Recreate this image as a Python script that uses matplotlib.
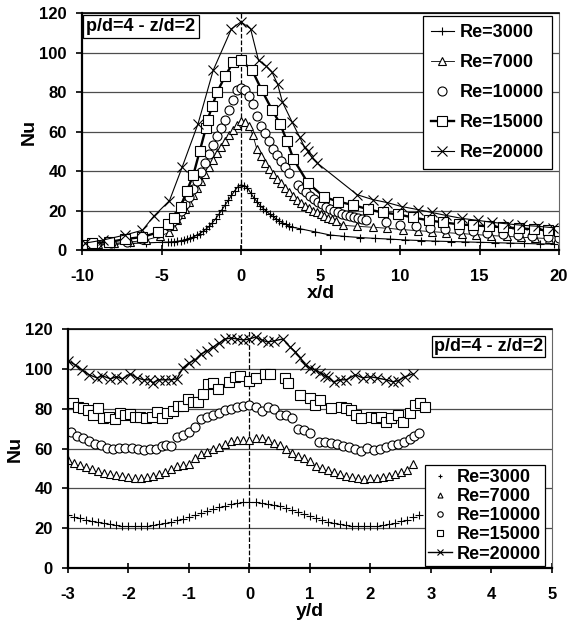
import numpy as np
import matplotlib
matplotlib.use("Agg")
import matplotlib.pyplot as plt

plt.rcParams.update({
    "font.family": ["Liberation Sans", "DejaVu Sans"],
    "font.weight": "bold",
    "font.size": 12,
    "axes.unicode_minus": False,
})

# ---------------- top panel: Nu vs x/d ----------------
x_re3000 = [-10, -9, -8, -7, -6, -5,
            -4.6, -4.4, -4.2, -4.0, -3.8, -3.6, -3.4, -3.2, -3.0, -2.8, -2.6, -2.4, -2.2, -2.0,
            -1.8, -1.6, -1.4, -1.2, -1.0, -0.8, -0.6, -0.4, -0.2, 0.0, 0.2, 0.4, 0.6, 0.8,
            1.0, 1.2, 1.4, 1.6, 1.8, 2.0, 2.2, 2.4, 2.6, 2.8, 3.0, 3.2,
            3.7, 4.65, 5.6, 6.5, 7.5, 8.4, 9.4, 10.3, 11.3, 12.2, 13.2, 14.1, 15.0, 16.0,
            16.9, 17.8, 18.8, 19.7]
nu_re3000 = [2.0, 2.5, 3.0, 3.3, 3.6, 3.9,
             4.0, 4.1, 4.2, 4.4, 4.7, 5.0, 5.4, 6.0, 6.6, 7.4, 8.3, 9.4, 10.6, 12.0,
             13.8, 15.8, 18.0, 20.4, 22.8, 25.2, 27.6, 30.0, 32.0, 33.0, 32.5, 31.5, 29.0, 26.5,
             24.5, 22.5, 21.0, 19.6, 18.2, 17.0, 15.8, 14.8, 13.9, 13.0, 12.2, 11.6,
             10.8, 9.2, 7.6, 6.9, 6.3, 5.9, 5.5, 5.1, 4.8, 4.5, 4.3, 4.1, 3.9, 3.7,
             3.5, 3.3, 3.1, 3.0]

x_re7000 = [-10, -9, -8, -7, -6, -5.1,
            -4.5, -4.25, -4.0, -3.75, -3.5, -3.25, -3.0, -2.75, -2.5, -2.25, -2.0, -1.75,
            -1.5, -1.25, -1.0, -0.75, -0.5, -0.25, 0.0, 0.25, 0.5, 0.75, 1.0, 1.25, 1.5,
            1.75, 2.0, 2.25, 2.5, 2.75, 3.0, 3.25, 3.5, 3.75, 4.0, 4.25, 4.5, 4.75, 5.0,
            5.25, 5.5, 5.75, 6.0,
            6.4, 7.3, 8.3, 9.2, 10.2, 11.1, 12.0, 12.9, 13.9, 14.8, 15.7, 16.7, 17.6, 18.5, 19.4]
nu_re7000 = [2.0, 2.8, 3.4, 4.0, 5.0, 7.0,
             9, 12, 15, 18, 21, 24.5, 28, 31.5, 35, 38.5, 42, 45.5,
             49, 52, 55, 58, 61, 63.5, 65.5, 65, 63, 58, 51, 47.5, 44,
             41, 38.5, 36, 34, 31.5, 29.5, 27.5, 25.5, 24, 22.5, 21.2, 20, 19, 18,
             17.2, 16.4, 15.6, 14.8,
             12.5, 12.0, 11.5, 11.0, 10.3, 9.8, 9.3, 8.8, 8.3, 7.8, 7.3, 6.9, 6.5, 6.1, 5.8]

x_re10000 = [-10, -9.1, -8.2, -7.2, -6.2, -5.2,
             -4.5, -4.25, -4.0, -3.75, -3.5, -3.25, -3.0, -2.75, -2.5, -2.25, -2.0, -1.75,
             -1.5, -1.25, -1.0, -0.75, -0.5, -0.25, 0.0, 0.25, 0.5, 0.75, 1.0, 1.25, 1.5,
             1.75, 2.0, 2.25, 2.5, 2.75, 3.0,
             3.6, 3.85, 4.1, 4.35, 4.6, 4.85, 5.1, 5.35, 5.6, 5.85, 6.1, 6.35, 6.6, 6.85,
             7.1, 7.35, 7.6, 7.85,
             9.1, 10.0, 11.0, 11.9, 12.8, 13.7, 14.6, 15.5, 16.5, 17.4, 18.3, 19.3, 20.0]
nu_re10000 = [2.5, 3.0, 3.5, 4.2, 5.5, 8.5,
              12, 14.5, 17, 20, 23.5, 27, 31, 35, 39.5, 44, 48.5, 53,
              57.5, 62, 66, 71, 76, 81, 82, 81, 78, 74, 68, 63, 59,
              55, 51, 48, 45, 42, 39,
              33, 31, 29.5, 27.5, 26, 24.5, 23.5, 22, 21, 20, 19, 18.3, 17.6, 17,
              16.5, 16, 15.6, 15.2,
              14.3, 12.6, 12.0, 11.3, 10.6, 10.0, 9.4, 8.8, 8.3, 7.7, 7.2, 6.7, 6.3]

x_re15000 = [-10, -9.4, -8.3, -7.3, -6.2, -5.2,
             -4.6, -4.2, -3.8, -3.4, -3.0, -2.6, -2.2, -2.1, -1.8, -1.5, -1.0, -0.5, 0.0,
             0.7, 1.3, 1.95, 2.45, 2.9, 3.3, 4.2, 5.2, 6.1, 7.05, 8.0, 8.9, 9.9, 10.8,
             11.8, 12.7, 13.7, 14.6, 15.6, 16.5, 17.5, 18.4, 19.3, 20.0]
nu_re15000 = [2.5, 3.5, 4.0, 5.5, 6.6, 9.0,
              13, 16, 22, 30, 38, 50, 62, 66, 73, 80, 88, 95, 96,
              91, 81, 71, 64, 55, 46, 34, 27, 24.5, 22.8, 20.6, 19, 18, 16.5,
              15, 14, 13, 12.5, 12, 11.5, 11, 10.5, 10, 9.5]

x_re20000 = [-9.8, -8.7, -7.3, -6.2, -5.5, -4.5, -3.7, -2.7, -1.75, -0.6, 0.0, 0.6,
             1.1, 1.6, 1.95, 2.3, 2.6, 3.2, 3.7, 4.0, 4.2, 4.45, 4.8,
             7.3, 8.3, 9.2, 10.1, 11.1, 12.0, 12.9, 13.9, 14.9, 15.8, 16.8, 17.7, 18.7, 19.6]
nu_re20000 = [3.5, 5, 7.6, 10, 17, 25, 42, 64, 91, 112, 115.5, 112,
              96, 93, 90, 84, 75, 65, 57, 52, 50, 47, 44,
              28, 25.5, 24, 22, 20.5, 19, 17.5, 16, 15, 14, 13.2, 12.5, 12, 11.3]

# ---------------- bottom panel: Nu vs y/d ----------------
y_re3000 = [-3.0, -2.9, -2.8, -2.7, -2.6, -2.5, -2.4, -2.3, -2.2, -2.1, -2.0, -1.9, -1.8,
            -1.7, -1.6, -1.5, -1.4, -1.3, -1.2, -1.1, -1.0, -0.9, -0.8, -0.7, -0.6, -0.5,
            -0.4, -0.3, -0.2, -0.1, 0.0, 0.1, 0.2, 0.3, 0.4, 0.5, 0.6, 0.7, 0.8, 0.9, 1.0,
            1.1, 1.2, 1.3, 1.4, 1.5, 1.6, 1.7, 1.8, 1.9, 2.0, 2.1, 2.2, 2.3, 2.4, 2.5, 2.6,
            2.7, 2.8]
nuy_re3000 = [26.5, 25.8, 25.0, 24.3, 23.6, 23.0, 22.5, 22.0, 21.6, 21.3, 21.1, 21.0, 21.0,
              21.2, 21.5, 22.0, 22.6, 23.3, 24.0, 24.8, 25.6, 26.5, 27.5, 28.5, 29.5, 30.5,
              31.3, 32.0, 32.6, 33.0, 33.2, 33.0, 32.7, 32.3, 31.8, 31.0, 30.0, 29.0, 28.0,
              27.0, 26.0, 25.0, 24.0, 23.2, 22.5, 22.0, 21.5, 21.2, 21.0, 21.0, 21.0, 21.2,
              21.5, 22.0, 22.6, 23.4, 24.3, 25.4, 26.5]

y_re7000 = [-3.0, -2.9, -2.8, -2.7, -2.6, -2.5, -2.4, -2.3, -2.2, -2.1, -2.0, -1.9, -1.8,
            -1.7, -1.6, -1.5, -1.4, -1.3, -1.2, -1.1, -1.0, -0.9, -0.8, -0.7, -0.6, -0.5,
            -0.4, -0.3, -0.2, -0.1, 0.0, 0.1, 0.2, 0.3, 0.4, 0.5, 0.6, 0.7, 0.8, 0.9, 1.0,
            1.1, 1.2, 1.3, 1.4, 1.5, 1.6, 1.7, 1.8, 1.9, 2.0, 2.1, 2.2, 2.3, 2.4, 2.5, 2.6,
            2.7]
nuy_re7000 = [54, 52.5, 51.5, 50.5, 49.5, 48.5, 47.5, 47, 46.5, 46, 45.5, 45, 45,
              45.5, 46, 47, 48, 49.5, 51, 51.5, 52, 55, 57, 58.5, 60, 61,
              62.5, 64, 64.5, 64.5, 64.5, 65.5, 65.5, 64.5, 63, 62, 60, 58, 56, 55, 53.5,
              51, 50, 49, 48, 47, 46, 45.5, 45, 44.5, 45, 45, 45.5, 46, 47, 48, 49,
              52]

y_re10000 = [-2.95, -2.85, -2.75, -2.65, -2.55, -2.45, -2.35, -2.25, -2.15, -2.05, -1.95,
             -1.85, -1.75, -1.65, -1.55, -1.45, -1.38, -1.3,
             -1.2, -1.1, -1.0, -0.9, -0.8, -0.7, -0.6, -0.5, -0.4, -0.3, -0.2, -0.1, 0.0,
             0.1, 0.2, 0.3, 0.4, 0.5, 0.6, 0.7, 0.8, 0.9, 1.0,
             1.15, 1.25, 1.35, 1.45, 1.55, 1.65, 1.75, 1.85, 1.95, 2.05, 2.15, 2.25, 2.35,
             2.45, 2.55, 2.65, 2.72, 2.8]
nuy_re10000 = [68.5, 66.5, 65.5, 64, 62.5, 62, 60.5, 60, 60.5, 60.5, 60.5,
               60, 59.5, 60, 60, 61.5, 62, 61.5,
               66, 67, 68.5, 71, 75, 76, 77, 78, 79.5, 80, 81, 81.5, 82,
               81, 79, 81, 80, 77, 77, 75.5, 70, 69.5, 68,
               63.5, 63.5, 63, 62.5, 61.5, 61, 60, 59, 60.5, 59.5, 60, 61, 62,
               62.5, 63.5, 65, 66.5, 68]

y_re15000 = [-2.92, -2.83, -2.75, -2.67, -2.58, -2.5, -2.42, -2.33, -2.22, -2.14, -2.06,
             -1.97, -1.89, -1.81, -1.71, -1.61, -1.53, -1.45, -1.36, -1.26, -1.18, -1.1,
             -1.02, -0.94, -0.85, -0.77, -0.69, -0.6, -0.52, -0.34, -0.24, -0.16, -0.01,
             0.1, 0.26, 0.34, 0.58, 0.64, 0.83, 1.0, 1.08, 1.16, 1.35, 1.51, 1.6, 1.68,
             1.76, 1.85, 2.01, 2.09, 2.18, 2.26, 2.34, 2.45, 2.54, 2.65, 2.74, 2.82, 2.9]
nuy_re15000 = [83, 81, 80.5, 79.5, 77, 80.5, 75.5, 76, 75, 78, 77,
               77.5, 76, 76, 75.5, 76, 78.5, 75.5, 78, 79, 81.5, 81.5,
               85, 83.5, 83.5, 87.5, 92.5, 93, 90, 93.5, 96, 96.5, 94,
               95.5, 97.5, 97.5, 95.5, 93, 87, 85.5, 82, 84.5, 80.5, 81, 80.5, 79.5,
               77, 75.5, 76, 75.5, 76, 73.5, 75.5, 77, 73.5, 78, 82, 83, 81]

y_re20000 = [-3.0, -2.88, -2.77, -2.65, -2.52, -2.43, -2.3, -2.2, -2.1, -1.97, -1.86,
             -1.75, -1.65, -1.6, -1.5, -1.4, -1.3, -1.2, -1.1, -1.0, -0.9, -0.8, -0.7,
             -0.6, -0.5, -0.4, -0.3, -0.2, -0.1, 0.0, 0.1, 0.2, 0.3, 0.4, 0.55, 0.67,
             0.76, 0.84, 0.92, 1.0, 1.08, 1.17, 1.25, 1.3, 1.39, 1.5, 1.6, 1.75, 1.87,
             2.0, 2.1, 2.26, 2.37, 2.45, 2.57, 2.7]
nuy_re20000 = [104, 102, 99.5, 97, 95.5, 96.5, 95, 96, 95, 97.5, 95.5,
               94.5, 94.5, 93, 94.5, 94.5, 94.5, 95, 100.5, 103, 104.5, 107.5, 109,
               111, 113, 115, 115.5, 115, 114.5, 115, 116, 114.5, 113.5, 114, 115, 111,
               108.5, 105.5, 102, 100.5, 99.5, 98, 96.5, 96, 93.5, 94.5, 94.5, 97, 95.5,
               96, 95.5, 94.5, 93.5, 94, 96, 97.5]

labels = ["Re=3000", "Re=7000", "Re=10000", "Re=15000", "Re=20000"]
box_text = "p/d=4 - z/d=2"

fig = plt.figure(figsize=(5.68, 6.28), dpi=100)
axT = fig.add_axes([0.1444, 0.6019, 0.8398, 0.3774])
axB = fig.add_axes([0.1197, 0.0955, 0.8521, 0.3806])

mk = dict(color="black", mfc="white", mec="black", mew=0.8)


def style_axes(ax):
    ax.yaxis.grid(True, color="0.3", lw=0.9)
    ax.set_axisbelow(True)
    for s in ("left", "bottom"):
        ax.spines[s].set_linewidth(1.6)
    ax.spines["top"].set_linewidth(1.2)
    ax.spines["right"].set_linewidth(0.8)
    ax.spines["right"].set_color("0.4")
    ax.tick_params(axis="x", direction="inout", length=7, width=1.2, labelsize=12, pad=10)
    ax.tick_params(axis="y", direction="out", length=4, width=1.2, labelsize=12, pad=7)
    ax.set_yticks(np.arange(0, 121, 20))
    ax.set_ylim(0, 120)
    for t in ax.get_xticklabels() + ax.get_yticklabels():
        t.set_fontweight("bold")
    ax.axvline(0, color="black", ls="--", lw=0.9, zorder=1)


# --- top ---
axT.plot(x_re3000, nu_re3000, marker="+", ms=6, lw=0.8, label=labels[0], **mk)
axT.plot(x_re7000, nu_re7000, marker="^", ms=6, lw=0.6, label=labels[1], **mk)
axT.plot(x_re10000, nu_re10000, marker="o", ms=6.5, ls="none", label=labels[2], **mk)
axT.plot(x_re15000, nu_re15000, marker="s", ms=6.5, lw=1.7, label=labels[3], **mk)
axT.plot(x_re20000, nu_re20000, marker="x", ms=6.5, lw=0.8, label=labels[4], **mk)
axT.set_xlim(-10, 20)
axT.set_xticks(np.arange(-10, 21, 5))
style_axes(axT)
axT.set_xlabel("x/d", fontsize=14, fontweight="bold", labelpad=1)
axT.set_ylabel("Nu", fontsize=14, fontweight="bold", labelpad=1)
leg = axT.legend(loc="upper right", bbox_to_anchor=(0.985, 0.987), borderaxespad=0,
                 fancybox=False, edgecolor="black", framealpha=1, labelspacing=0.72,
                 handlelength=1.3, handletextpad=0.3, borderpad=0.45,
                 prop=dict(weight="bold", size=13))
leg.get_frame().set_linewidth(0.9)
axT.text(0.009, 0.978, box_text, transform=axT.transAxes, ha="left", va="top",
         fontsize=13, fontweight="bold",
         bbox=dict(boxstyle="square,pad=0.18", fc="white", ec="black", lw=0.9))

# --- bottom ---
axB.plot(y_re3000, nuy_re3000, marker="+", ms=6, ls="none", label=labels[0], **mk)
axB.plot(y_re7000, nuy_re7000, marker="^", ms=6, ls="none", label=labels[1], **mk)
axB.plot(y_re10000, nuy_re10000, marker="o", ms=6.5, ls="none", label=labels[2], **mk)
axB.plot(y_re15000, nuy_re15000, marker="s", ms=6.5, ls="none", label=labels[3], **mk)
axB.plot(y_re20000, nuy_re20000, marker="x", ms=6.5, lw=1.0, label=labels[4], **mk)
axB.set_xlim(-3, 5)
axB.set_xticks(np.arange(-3, 6, 1))
style_axes(axB)
axB.set_xlabel("y/d", fontsize=14, fontweight="bold", labelpad=1)
axB.set_ylabel("Nu", fontsize=14, fontweight="bold", labelpad=1)
legB = axB.legend(loc="lower right", bbox_to_anchor=(0.9855, 0.008), borderaxespad=0,
                  fancybox=False, edgecolor="black", framealpha=1, labelspacing=0.12,
                  handlelength=1.3, handletextpad=0.3, borderpad=0.2, markerscale=0.6,
                  prop=dict(weight="bold", size=13))
legB.get_frame().set_linewidth(0.9)
axB.text(0.982, 0.962, box_text, transform=axB.transAxes, ha="right", va="top",
         fontsize=13, fontweight="bold",
         bbox=dict(boxstyle="square,pad=0.1", fc="white", ec="black", lw=0.9))

fig.savefig("out.png", dpi=100)
